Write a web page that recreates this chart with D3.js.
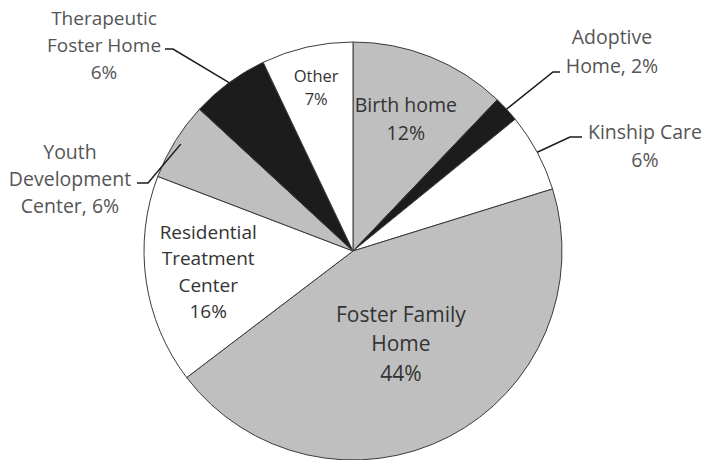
<!DOCTYPE html>
<html lang="en">
	<head>
		<meta charset="utf-8">
		<title>Placement pie</title>
		<script type="text/javascript" src="https://cdn.jsdelivr.net/npm/d3@7"></script>
		<style type="text/css">
			body { margin: 0; background: #fff; }
			text { font-family: "Open Sans", sans-serif; }
		</style>
	</head>
	<body>
		<script type="text/javascript">

			//Data
			var categories = ["Birth home", "Adoptive Home", "Kinship Care", "Foster Family Home",
							  "Residential Treatment Center", "Youth Development Center",
							  "Therapeutic Foster Home", "Other"];
			var values = [12, 2, 6, 44, 16, 6, 6, 7];
			var labelLines = [
				["Birth home", "12%"],
				["Adoptive", "Home, 2%"],
				["Kinship Care", "6%"],
				["Foster Family", "Home", "44%"],
				["Residential", "Treatment", "Center", "16%"],
				["Youth", "Development", "Center, 6%"],
				["Therapeutic", "Foster Home", "6%"],
				["Other", "7%"]
			];
			var fills = ["#bfbfbf", "#1c1c1c", "#ffffff", "#bfbfbf", "#ffffff", "#bfbfbf", "#1c1c1c", "#ffffff"];

			//Layout
			var w = 706;
			var h = 460;
			var cx = 353, cy = 251, r = 209;

			// inside labels: radius factor; outside labels: text block centre + elbow
			var labelLayout = [
				{ inside: true, rf: 0.68, size: 19.5, lh: 28 },
				{ inside: false, tx: 612, ty: 52, elbow: [553, 72], start: [560, 72], size: 19.5, lh: 29 },
				{ inside: false, tx: 645, ty: 146, elbow: [570, 137], start: [582, 137], size: 19.5, lh: 28 },
				{ inside: true, rf: 0.5, size: 21, lh: 29.5 },
				{ inside: true, rf: 0.7, size: 19, lh: 26.5 },
				{ inside: false, tx: 70, ty: 179, elbow: [148, 183], start: [137, 183], size: 19.5, lh: 27, rf: 0.97 },
				{ inside: false, tx: 104, ty: 45, elbow: [173, 49], start: [165, 49], size: 19, lh: 27 },
				{ inside: true, rf: 0.8, size: 16.5, lh: 23 }
			];

			var svg = d3.select("body")
						.append("svg")
						.attr("width", w)
						.attr("height", h);

			var pie = d3.pie().sort(null).value(function(d) { return d; });
			var arcs = pie(values);

			var arc = d3.arc().innerRadius(0).outerRadius(r);

			var g = svg.append("g").attr("transform", "translate(" + cx + "," + cy + ")");

			g.selectAll("path")
			 .data(arcs)
			 .enter()
			 .append("path")
			 .attr("d", arc)
			 .attr("fill", function(d, i) { return fills[i]; })
			 .attr("stroke", "#3a3a3a")
			 .attr("stroke-width", 1);

			//Labels
			arcs.forEach(function(d, i) {
				var L = labelLayout[i];
				var lines = labelLines[i];
				var x, y;
				if (L.inside) {
					var a = d3.arc().innerRadius(0).outerRadius(r * L.rf * 2);
					var c = a.centroid(d);
					x = cx + c[0];
					y = cy + c[1];
				} else {
					x = L.tx;
					y = L.ty;
					var e = d3.arc().innerRadius(0).outerRadius(r * (L.rf || 1) * 2).centroid(d);
					svg.append("polyline")
					   .attr("points", [L.start, L.elbow, [cx + e[0], cy + e[1]]].map(function(p) { return p.join(","); }).join(" "))
					   .attr("fill", "none")
					   .attr("stroke", "#1a1a1a")
					   .attr("stroke-width", 1.5);
				}
				var t = svg.append("text")
						   .attr("text-anchor", "middle")
						   .attr("font-size", L.size + "px")
						   .attr("fill", L.inside ? "#333" : "#555");
				var top = y - (lines.length - 1) * L.lh / 2;
				lines.forEach(function(s, j) {
					t.append("tspan")
					 .attr("x", x)
					 .attr("y", top + j * L.lh)
					 .attr("dy", "0.35em")
					 .text(s);
				});
			});

		</script>
	</body>
</html>
